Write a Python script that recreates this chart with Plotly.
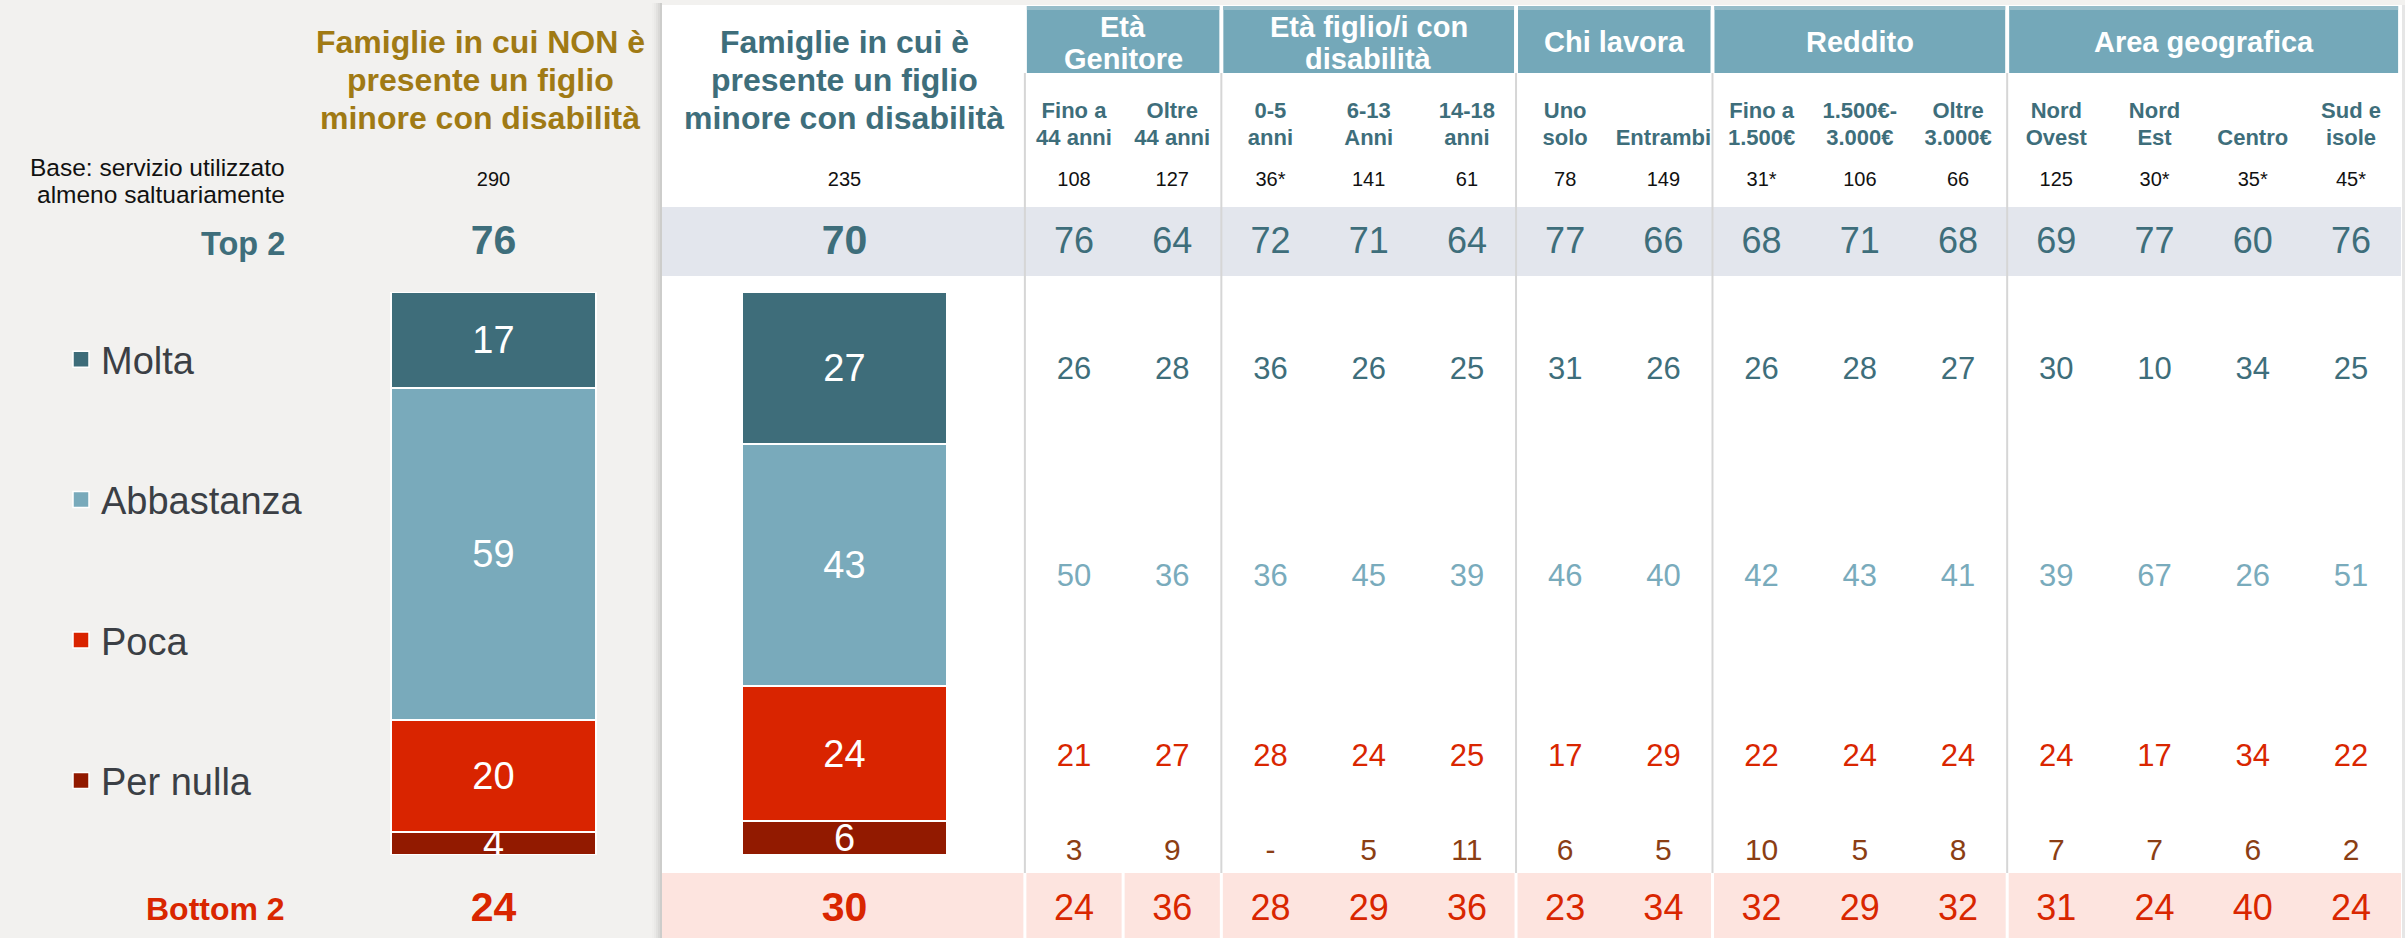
import plotly.graph_objects as go

W, H = 2405, 938
FONT = "Liberation Sans"

# ---------------- DATA ----------------
legend_labels = ["Molta", "Abbastanza", "Poca", "Per nulla"]
bar_keys = ["NON presente", "Presente"]
bar_titles = [
    ["Famiglie in cui NON è", "presente un figlio", "minore con disabilità"],
    ["Famiglie in cui è", "presente un figlio", "minore con disabilità"],
]
bar_molta = [17, 27]
bar_abbastanza = [59, 43]
bar_poca = [20, 24]
bar_per_nulla = [4, 6]
bar_base = ["290", "235"]
bar_top2 = [76, 70]
bar_bottom2 = [24, 30]

group_names = [["Età", "Genitore"], ["Età figlio/i con", "disabilità"], ["Chi lavora"],
               ["Reddito"], ["Area geografica"]]
group_sizes = [2, 3, 2, 3, 4]
col_line1 = ["Fino a", "Oltre", "0-5", "6-13", "14-18", "Uno", "", "Fino a", "1.500€-",
             "Oltre", "Nord", "Nord", "", "Sud e"]
col_line2 = ["44 anni", "44 anni", "anni", "Anni", "anni", "solo", "Entrambi", "1.500€",
             "3.000€", "3.000€", "Ovest", "Est", "Centro", "isole"]
col_base = ["108", "127", "36*", "141", "61", "78", "149", "31*", "106", "66", "125",
            "30*", "35*", "45*"]
tab_top2 = [76, 64, 72, 71, 64, 77, 66, 68, 71, 68, 69, 77, 60, 76]
tab_molta = [26, 28, 36, 26, 25, 31, 26, 26, 28, 27, 30, 10, 34, 25]
tab_abbastanza = [50, 36, 36, 45, 39, 46, 40, 42, 43, 41, 39, 67, 26, 51]
tab_poca = [21, 27, 28, 24, 25, 17, 29, 22, 24, 24, 24, 17, 34, 22]
tab_per_nulla = ["3", "9", "-", "5", "11", "6", "5", "10", "5", "8", "7", "7", "6", "2"]
tab_bottom2 = [24, 36, 28, 29, 36, 23, 34, 32, 29, 32, 31, 24, 40, 24]
base_label = ["Base: servizio utilizzato", "almeno saltuariamente"]

# ---------------- STYLE / LAYOUT ----------------
C_BG = "#F2F1EF"
C_TEAL = "#3E6E7B"
C_LTEAL = "#79ABBC"
C_RED = "#D92600"
C_BROWN = "#8B3E14"
C_GOLD = "#A07A14"
C_HEAD = "#74A8B9"
C_TOPBAND = "#E3E6ED"
C_BOTBAND = "#FDE4DF"
C_SEP = "#D6D6D6"
bar_colors = {"Molta": "#3E6D7A", "Abbastanza": "#79AABB", "Poca": "#D92400",
              "Per nulla": "#921A00"}

ROW = dict(title=[42, 80, 118], grp1=27, grp2=59, grp_single=42, sub1=112, sub2=139,
           base=181, top2=244, molta=371, abbastanza=578, poca=758, per_nulla=852,
           bottom2=911)
COL_C0, COL_W = 1074.0, 98.23
X2_LEFT = COL_C0 - COL_W / 2
X2_RIGHT = X2_LEFT + COL_W * 14
BAR_C = [493.5, 844.5]
BAR_SP = BAR_C[1] - BAR_C[0]
BAR_TOP, BAR_BOT = 292, 855

col_keys = [(a + " " + b).strip() for a, b in zip(col_line1, col_line2)]


def px(x):
    return x / W


def py(y):
    return 1 - y / H


fig = go.Figure()

# stacked bars (bottom-up)
stack = [("Per nulla", bar_per_nulla), ("Poca", bar_poca), ("Abbastanza", bar_abbastanza),
         ("Molta", bar_molta)]
for name, vals in stack:
    fig.add_trace(go.Bar(
        x=bar_keys, y=vals, name=name, showlegend=False, width=0.582,
        marker=dict(color=bar_colors[name], line=dict(color="white", width=2)),
        text=[str(v) for v in vals], textposition="inside", insidetextanchor="middle",
        textangle=0, constraintext="none",
        textfont=dict(family=FONT, size=38, color="white"),
        hoverinfo="skip", xaxis="x", yaxis="y"))

# legend entries (square keys, same colours as the bar series)
for rank, name in enumerate(legend_labels):
    fig.add_trace(go.Scatter(
        x=[None], y=[None], mode="markers", name=name, legendgroup=name,
        legendrank=rank + 1,
        marker=dict(symbol="square", size=16, color=bar_colors[name],
                    line=dict(color="white", width=1.5)),
        xaxis="x", yaxis="y", hoverinfo="skip"))

# left summary numbers (base, top2, bottom2)
fig.add_trace(go.Scatter(x=bar_keys, y=[ROW["base"]] * 2, mode="text", text=bar_base,
                         textfont=dict(family=FONT, size=20, color="#111111"),
                         xaxis="x3", yaxis="y2", showlegend=False, cliponaxis=False,
                         hoverinfo="skip"))
fig.add_trace(go.Scatter(x=bar_keys, y=[ROW["top2"]] * 2, mode="text",
                         text=["<b>%d</b>" % v for v in bar_top2],
                         textfont=dict(family=FONT, size=41, color=C_TEAL),
                         xaxis="x3", yaxis="y2", showlegend=False, cliponaxis=False,
                         hoverinfo="skip"))
fig.add_trace(go.Scatter(x=bar_keys, y=[ROW["bottom2"]] * 2, mode="text",
                         text=["<b>%d</b>" % v for v in bar_bottom2],
                         textfont=dict(family=FONT, size=41, color=C_RED),
                         xaxis="x3", yaxis="y2", showlegend=False, cliponaxis=False,
                         hoverinfo="skip"))

# table rows
rows = [
    ("sub1", col_line1, 22, C_TEAL, True),
    ("sub2", col_line2, 22, C_TEAL, True),
    ("base", col_base, 20, "#111111", False),
    ("top2", [str(v) for v in tab_top2], 36, C_TEAL, False),
    ("molta", [str(v) for v in tab_molta], 31, C_TEAL, False),
    ("abbastanza", [str(v) for v in tab_abbastanza], 31, C_LTEAL, False),
    ("poca", [str(v) for v in tab_poca], 31, C_RED, False),
    ("per_nulla", tab_per_nulla, 30, C_BROWN, False),
    ("bottom2", [str(v) for v in tab_bottom2], 36, C_RED, False),
]
for key, texts, size, color, bold in rows:
    fig.add_trace(go.Scatter(
        x=col_keys, y=[ROW[key]] * len(col_keys), mode="text",
        text=[("<b>%s</b>" % t if (bold and t) else t) for t in texts],
        textfont=dict(family=FONT, size=size, color=color),
        xaxis="x2", yaxis="y2", showlegend=False, cliponaxis=False, hoverinfo="skip"))

# ---------------- SHAPES ----------------
shapes = []


def rect(x0, y0, x1, y1, color):
    shapes.append(dict(type="rect", xref="paper", yref="paper", x0=px(x0), x1=px(x1),
                       y0=py(y1), y1=py(y0), fillcolor=color, line=dict(width=0),
                       layer="below"))


def vline(x, y0, y1, color, w=2):
    shapes.append(dict(type="line", xref="paper", yref="paper", x0=px(x), x1=px(x),
                       y0=py(y1), y1=py(y0), line=dict(color=color, width=w),
                       layer="below"))


# shadow + white panel
for i, a in enumerate([0.012, 0.02, 0.03, 0.04, 0.05]):
    rect(652 + 2 * i, 3, 662, H, "rgba(0,0,0,%s)" % a)
rect(662, 5, 2402, H, "white")
rect(2402, 5, 2405, H, "#E6E6E6")
rect(662, 207, 2401, 276, C_TOPBAND)
rect(662, 873, 2401, H, C_BOTBAND)

# header groups and separators
start = 0
edges = []
for names, n in zip(group_names, group_sizes):
    x0 = X2_LEFT + start * COL_W
    x1 = X2_LEFT + (start + n) * COL_W
    edges.append(x0)
    rect(x0 + 2, 6, x1 - 2, 73, C_HEAD)
    rect(x0 + 2, 6, x1 - 2, 10, "#97BDCA")
    start += n
for e in edges:
    vline(e, 73, 873, C_SEP)
    vline(e, 873, H, "white", 3)
vline(X2_LEFT + COL_W, 873, H, "white", 3)

# ---------------- ANNOTATIONS ----------------
ann = []


def text(x, y, t, size, color, xanchor="center"):
    ann.append(dict(x=px(x), y=py(y), xref="paper", yref="paper", text=t, showarrow=False,
                    xanchor=xanchor, yanchor="middle",
                    font=dict(family=FONT, size=size, color=color)))


for j, title in enumerate(bar_titles):
    color = C_GOLD if j == 0 else C_TEAL
    cx = 480 if j == 0 else 844
    for line, y in zip(title, ROW["title"]):
        text(cx, y, "<b>%s</b>" % line, 32, color)

text(287, 167, base_label[0], 24.5, "#111111", "right")
text(287, 195, base_label[1], 24.5, "#111111", "right")
text(287, ROW["top2"], "<b>Top 2</b>", 32.5, C_TEAL, "right")
text(287, ROW["bottom2"] - 2, "<b>Bottom 2</b>", 32, C_RED, "right")

start = 0
for names, n in zip(group_names, group_sizes):
    cx = X2_LEFT + (start + n / 2) * COL_W
    if len(names) == 2:
        text(cx, ROW["grp1"], "<b>%s</b>" % names[0], 29, "white")
        text(cx, ROW["grp2"], "<b>%s</b>" % names[1], 29, "white")
    else:
        text(cx, ROW["grp_single"], "<b>%s</b>" % names[0], 29, "white")
    start += n

# ---------------- LAYOUT ----------------
hidden = dict(visible=False, fixedrange=True)
fig.update_layout(
    width=W, height=H, margin=dict(l=0, r=0, t=0, b=0),
    paper_bgcolor=C_BG, plot_bgcolor="rgba(0,0,0,0)",
    barmode="stack", bargap=0,
    uniformtext=dict(minsize=38, mode="show"),
    xaxis=dict(domain=[px(BAR_C[0] - BAR_SP / 2), px(BAR_C[1] + BAR_SP / 2)],
               range=[-0.5, 1.5], type="category", anchor="y", **hidden),
    yaxis=dict(domain=[py(BAR_BOT), py(BAR_TOP)], range=[0, 100], anchor="x", **hidden),
    xaxis3=dict(domain=[px(BAR_C[0] - BAR_SP / 2), px(BAR_C[1] + BAR_SP / 2)],
                range=[-0.5, 1.5], type="category", anchor="y2", **hidden),
    xaxis2=dict(domain=[px(X2_LEFT), px(X2_RIGHT)], range=[-0.5, 13.5], type="category",
                anchor="y2", **hidden),
    yaxis2=dict(domain=[0, 1], range=[H, 0], anchor="x2", **hidden),
    showlegend=True,
    legend=dict(x=px(61), y=py(328), xanchor="left", yanchor="top",
                traceorder="grouped", tracegroupgap=88, itemsizing="trace",
                font=dict(family=FONT, size=38, color="#3B3F45"),
                bgcolor="rgba(0,0,0,0)"),
    shapes=shapes, annotations=ann,
)

fig.write_html("out.html", config={"displayModeBar": False},
               post_script="document.body.style.margin='0px';"
                           "document.body.style.overflow='hidden';")
